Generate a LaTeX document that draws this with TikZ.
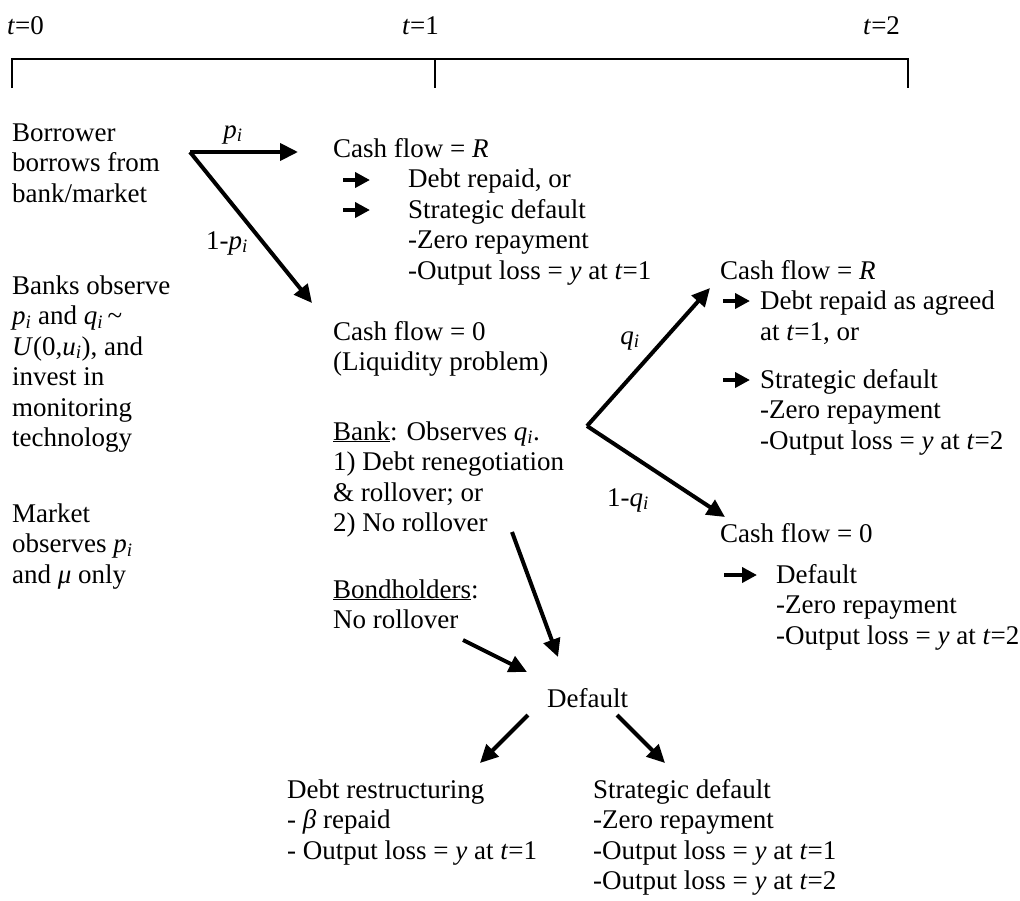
\documentclass[tikz,border=0pt]{standalone}
\usepackage{fontspec}
\setmainfont{Liberation Serif}
\usetikzlibrary{arrows.meta}

\newcommand{\ivar}[1]{\textit{#1}\textsubscript{\textit{i}}}
\newcommand{\txtblock}[1]{\begin{tabular}[t]{@{}l@{}}#1\end{tabular}}

\begin{document}
\begin{tikzpicture}
[x=1pt,y=-1pt,
  txtDecorate/.style={anchor=base west,inner sep=0pt,font=\fontsize{27}{30.5}\selectfont},
  lblDecorate/.style={anchor=base,inner sep=0pt,font=\fontsize{27}{30.5}\selectfont},
  bigArrow/.style={-{Triangle[length=18pt,width=17pt]},line width=4pt},
  smallArrow/.style={-{Triangle[length=15pt,width=15pt]},line width=4pt},
  timeDecorate/.style={line width=2.2pt}]
\useasboundingbox (0,0) rectangle (1020,900);
%% time line
\node (tzero) at (7,34) [txtDecorate] {\textit{t}=0};
\node (tone) at (402,34) [txtDecorate] {\textit{t}=1};
\node (ttwo) at (863,34) [txtDecorate] {\textit{t}=2};
\coordinate (lineA) at (12,59);
\coordinate (lineB) at (435,59);
\coordinate (lineC) at (908,59);
\coordinate (tickA) at (12,88);
\coordinate (tickB) at (435,88);
\coordinate (tickC) at (908,88);
\draw[timeDecorate] (tickA) -- (lineA) -- (lineC) -- (tickC);
\draw[line width=1.2pt] (lineB) -- (tickB);
%% left column
\node (borrow) at (12,141) [txtDecorate] {\txtblock{Borrower\\borrows from\\bank/market}};
\node (banksobs) at (12,294) [txtDecorate]
  {\txtblock{Banks observe\\\ivar{p} and \ivar{q}\,\textasciitilde\\\textit{U}(0,\ivar{u}), and\\invest in\\monitoring\\technology}};
\node (marketobs) at (12,522) [txtDecorate] {\txtblock{Market\\observes \ivar{p}\\and \textit{μ} only}};
%% middle column
\node (cashR) at (333,157) [txtDecorate] {Cash flow = \textit{R}};
\node (repaid) at (408,187.5) [txtDecorate]
  {\txtblock{Debt repaid, or\\Strategic default\\-Zero repayment\\-Output loss = \textit{y} at \textit{t}=1}};
\node (cashzero) at (333,340) [txtDecorate] {\txtblock{Cash flow = 0\\(Liquidity problem)}};
\node (bankact) at (333,440) [txtDecorate]
  {\txtblock{\underline{Bank}: Observes \ivar{q}.\\1) Debt renegotiation\\\& rollover; or\\2) No rollover}};
\node (bondact) at (333,598) [txtDecorate] {\txtblock{\underline{Bondholders}:\\No rollover}};
\node (default) at (547,707) [txtDecorate] {Default};
\node (restruct) at (287,798) [txtDecorate]
  {\txtblock{Debt restructuring\\- \textit{β} repaid\\- Output loss = \textit{y} at \textit{t}=1}};
\node (strat) at (593,798) [txtDecorate]
  {\txtblock{Strategic default\\-Zero repayment\\-Output loss = \textit{y} at \textit{t}=1\\-Output loss = \textit{y} at \textit{t}=2}};
%% right column
\node (cashRtwo) at (720,279) [txtDecorate] {Cash flow = \textit{R}};
\node (agreed) at (760,309.5) [txtDecorate] {\txtblock{Debt repaid as agreed\\at \textit{t}=1, or}};
\node (strattwo) at (760,388) [txtDecorate]
  {\txtblock{Strategic default\\-Zero repayment\\-Output loss = \textit{y} at \textit{t}=2}};
\node (cashzerotwo) at (720,542) [txtDecorate] {Cash flow = 0};
\node (defaulttwo) at (776,583) [txtDecorate]
  {\txtblock{Default\\-Zero repayment\\-Output loss = \textit{y} at \textit{t}=2}};
%% branch labels
\node (plabel) at (233,138) [lblDecorate] {\ivar{p}};
\node (pbarlabel) at (227,249) [lblDecorate] {1-\ivar{p}};
\node (qlabel) at (630,344) [lblDecorate] {\ivar{q}};
\node (qbarlabel) at (628,506) [lblDecorate] {1-\ivar{q}};
%% arrow end points
\coordinate (pfork) at (190,152);
\coordinate (ptip) at (298,152);
\coordinate (pbartip) at (312,303);
\coordinate (qfork) at (587,426);
\coordinate (qtip) at (710,288);
\coordinate (qbartip) at (725,517);
\coordinate (bankend) at (512,532);
\coordinate (banktip) at (558,657);
\coordinate (bondend) at (463,640);
\coordinate (bondtip) at (527,672);
\coordinate (defleft) at (528,715);
\coordinate (restip) at (480,763);
\coordinate (defright) at (617,715);
\coordinate (strtip) at (665,763);
%% big arrows
\draw[bigArrow] (pfork) -- (ptip);
\draw[bigArrow] (pfork) -- (pbartip);
\draw[bigArrow] (qfork) -- (qtip);
\draw[bigArrow] (qfork) -- (qbartip);
\draw[bigArrow] (bankend) -- (banktip);
\draw[bigArrow] (bondend) -- (bondtip);
\draw[bigArrow] (defleft) -- (restip);
\draw[bigArrow] (defright) -- (strtip);
%% small arrows
\foreach \y [count=\i] in {180,210} {
  \coordinate (ma\i) at (343,\y);
  \coordinate (mb\i) at (370,\y);
  \draw[smallArrow] (ma\i) -- (mb\i);
}
\foreach \y [count=\i] in {301,380} {
  \coordinate (ra\i) at (723,\y);
  \coordinate (rb\i) at (750,\y);
  \draw[smallArrow] (ra\i) -- (rb\i);
}
\coordinate (da) at (724,575);
\coordinate (db) at (757,575);
\draw[smallArrow] (da) -- (db);
\end{tikzpicture}
\end{document}
